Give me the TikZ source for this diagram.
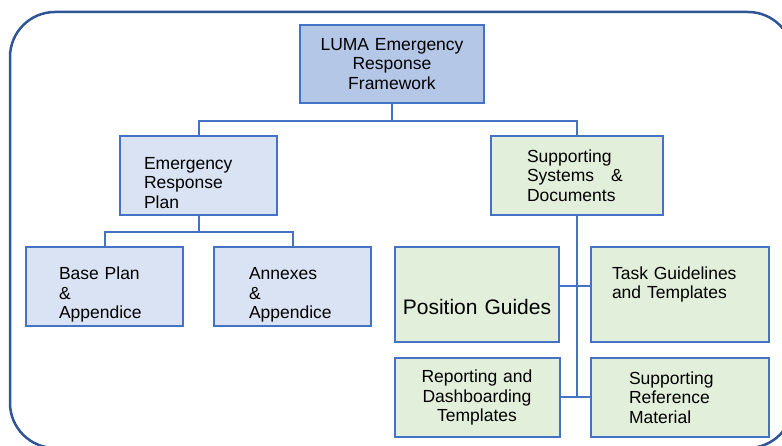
\documentclass[tikz,border=0pt]{standalone}
\usepackage{fontspec}
\setmainfont{Liberation Sans}
\usetikzlibrary{positioning}
\definecolor{frameblue}{HTML}{2F5597}
\definecolor{boxblue}{HTML}{4472C4}
\definecolor{topfill}{HTML}{B4C7E7}
\definecolor{planfill}{HTML}{DAE3F3}
\definecolor{docfill}{HTML}{E2EFDA}
% struts to push a box text down or up
\newcommand{\topgap}[1]{\rule{0pt}{#1}}
\newcommand{\botgap}[1]{\rule[-#1]{0pt}{#1}}
\tikzset{
    %Define standard box
    box/.style={
      rectangle,
      draw=boxblue, line width=2pt,
      inner sep=0pt,
      minimum height=79pt,
      font=\fontsize{17.5}{19.3}\selectfont,
      text=black},
    topbox/.style={
      box, fill=topfill,
      minimum width=184pt, minimum height=78pt,
      text width=170pt, align=center},
    planbox/.style={
      box, fill=planfill,
      minimum width=157pt, align=left},
    docbox/.style={
      box, fill=docfill, align=left},
    link/.style={
      draw=boxblue, line width=2pt},
}

\begin{document}
\begin{tikzpicture}[x=1pt, y=1pt, node distance=111.5pt]
    \useasboundingbox (0,0) rectangle (782,446);
    \clip (0,0) rectangle (782,446);
    \draw [frameblue, line width=2.5pt, rounded corners=45pt] (10,-2) rectangle (793,434);

    \node (luma) [topbox] at (392,382)
          {LUMA Emergency\\ Response\\ Framework};
    \node (erp) [planbox, text width=109pt] [below of=luma, xshift=-193.5pt]
          {\topgap{27pt}Emergency\\ Response\\ Plan};
    \node (ssd) [docbox, minimum width=172pt, text width=100pt] [below of=luma, xshift=185pt]
          {Supporting\\ Systems\hspace{17pt}\&\\ Documents};
    \node (base) [planbox, text width=91pt] [below of=erp, xshift=-94pt]
          {\topgap{28pt}Base Plan\\ \&\\ Appendice};
    \node (annex) [planbox, text width=87pt] [below of=erp, xshift=94pt]
          {\topgap{28pt}Annexes\\ \&\\ Appendice};
    \node (pos) [docbox, minimum width=164pt, minimum height=95pt, text width=160pt, align=center,
                 font=\fontsize{21}{23}\selectfont] [below of=ssd, xshift=-100pt, yshift=-7.5pt]
          {\topgap{40pt}Position Guides};
    \node (task) [docbox, minimum width=178pt, minimum height=95pt, text width=136pt]
                 [below of=ssd, xshift=103pt, yshift=-7.5pt]
          {Task Guidelines\\ and Templates\botgap{24pt}};
    \node (rdt) [docbox, minimum width=165pt, text width=150pt, align=center] [below of=pos, yshift=8.5pt]
          {Reporting and\\ Dashboarding\\ Templates};
    \node (srm) [docbox, minimum width=178pt, text width=102pt] [below of=task, yshift=8.5pt]
          {Supporting\\ Reference\\ Material};

    % tree links
    \draw [link] (luma.south) -- ++(0,-17) coordinate (split);
    \draw [link] (erp.north) |- (split) -| (ssd.north);
    \draw [link] (erp.south) -- ++(0,-16) coordinate (esplit);
    \draw [link] (base.north) |- (esplit) -| (annex.north);
    \draw [link] (ssd.south) -- (ssd.south |- rdt.east);
    \draw [link] ([yshift=8.5pt]pos.east) -- ([yshift=8.5pt]task.west);
    \draw [link] (rdt.east) -- (srm.west);
\end{tikzpicture}
\end{document}
